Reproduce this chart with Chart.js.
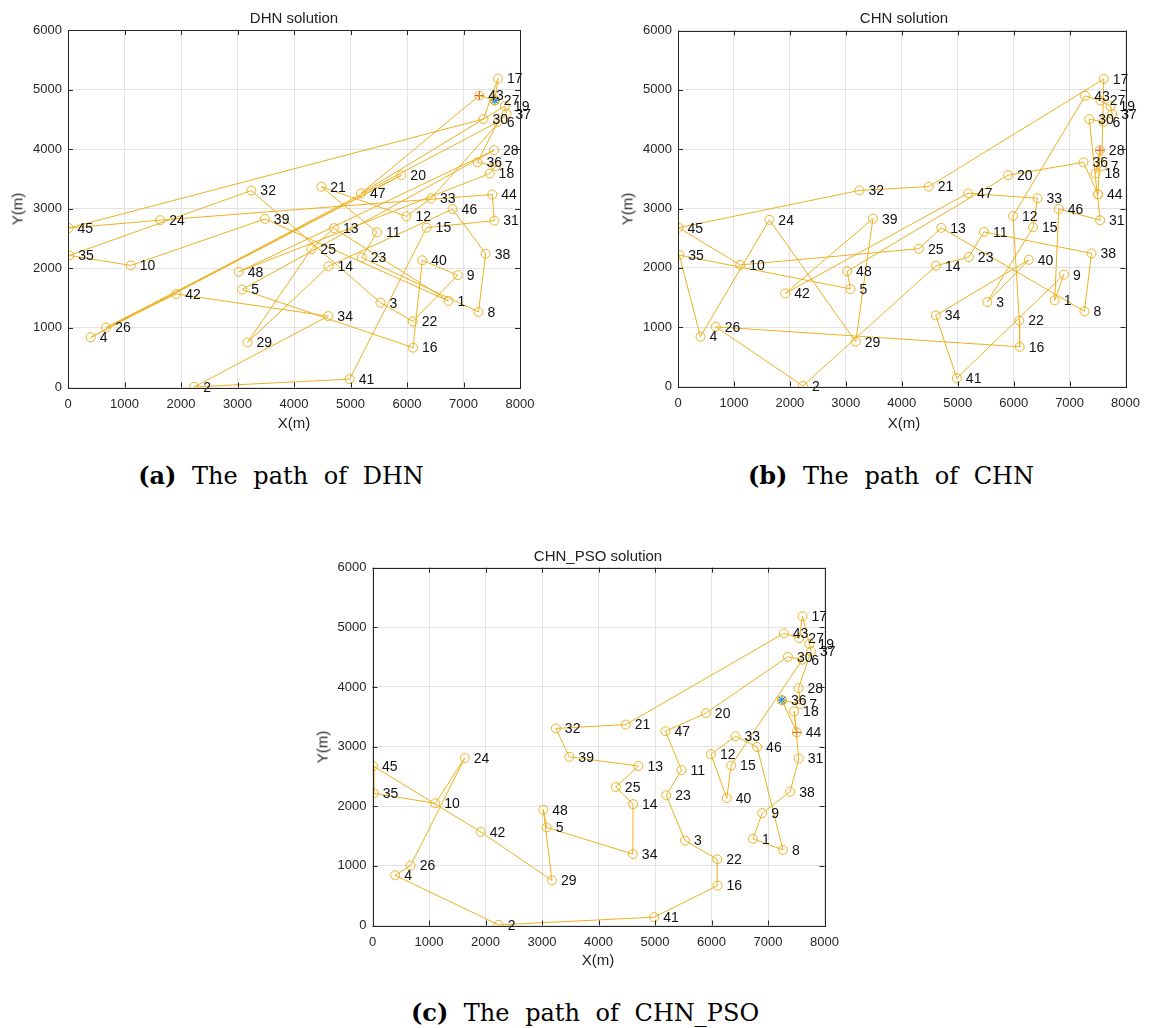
<!DOCTYPE html>
<html>
<head>
<meta charset="utf-8">
<script src="https://cdn.jsdelivr.net/npm/chart.js@4.4.1/dist/chart.umd.min.js"></script>
<style>
body{margin:0;background:#fff;width:1149px;height:1028px;position:relative;overflow:hidden;font-family:"Liberation Sans",Arial,sans-serif;color:#222}
canvas{position:absolute}
.t{position:absolute;transform:translate(-50%,-50%);white-space:nowrap}
.ttl{font-size:15px}
.ax{font-size:15px}
.rot{transform:translate(-50%,-50%) rotate(-90deg)}
.cap{font-family:"DejaVu Serif","Liberation Serif",serif;font-size:24px;color:#000;word-spacing:8px}
</style>
</head>
<body>
<canvas id="ca" width="545" height="420" style="left:0;top:0"></canvas>
<canvas id="cb" width="539" height="420" style="left:610px;top:0"></canvas>
<canvas id="cc" width="545" height="420" style="left:304px;top:537px"></canvas>

<div class="t ttl" style="left:294px;top:17px">DHN solution</div>
<div class="t ttl" style="left:904px;top:17px">CHN solution</div>
<div class="t ttl" style="left:598px;top:555px">CHN_PSO solution</div>

<div class="t ax" style="left:294px;top:422px">X(m)</div>
<div class="t ax" style="left:904px;top:422px">X(m)</div>
<div class="t ax" style="left:598px;top:959px">X(m)</div>
<div class="t ax rot" style="left:17px;top:209px">Y(m)</div>
<div class="t ax rot" style="left:627px;top:209px">Y(m)</div>
<div class="t ax rot" style="left:322px;top:747px">Y(m)</div>

<div class="t cap" style="left:281px;top:475px"><b>(a)</b> The path of DHN</div>
<div class="t cap" style="left:891px;top:475px"><b>(b)</b> The path of CHN</div>
<div class="t cap" style="left:585px;top:1012px"><b>(c)</b> The path of CHN_PSO</div>

<script>
// city coordinates (att48), index = city number - 1
const cityX = [6734, 2233, 5530, 401, 3082, 7608, 7573, 7265, 6898, 1112, 5468, 5989, 4706, 4612, 6347, 6107,
  7611, 7462, 7732, 5900, 4483, 6101, 5199, 1633, 4307, 675, 7555, 7541, 3177, 7352, 7545, 3245,
  6426, 4608, 23, 7248, 7762, 7392, 3484, 6271, 4985, 1916, 7280, 7509, 10, 6807, 5185, 3023];
const cityY = [1453, 10, 1424, 841, 1644, 4458, 3716, 1268, 1885, 2049, 2606, 2873, 2674, 2035, 2683, 669,
  5184, 3590, 4723, 3561, 3369, 1110, 2182, 2809, 2322, 1006, 4819, 3981, 756, 4506, 2801, 3305,
  3173, 1198, 2216, 3779, 4595, 2244, 2829, 2135, 140, 1569, 4899, 3239, 2676, 2993, 3258, 1942];

// visiting order of each solution (first city = start, last city = end)
const tourDHN = [27, 17, 30, 45, 24, 44, 31, 15, 41, 2, 34, 42, 26, 20, 4, 6, 36, 7, 18, 48, 28, 5, 16, 40,
  9, 22, 3, 32, 35, 10, 39, 1, 13, 25, 29, 14, 46, 38, 8, 23, 11, 21, 12, 33, 37, 19, 47, 43];
const tourCHN = [44, 36, 20, 48, 5, 35, 4, 24, 29, 39, 42, 47, 33, 15, 3, 40, 34, 41, 9, 1, 46, 31, 30, 6,
  37, 19, 27, 43, 12, 22, 16, 26, 2, 14, 23, 11, 38, 8, 13, 25, 10, 45, 32, 21, 17, 7, 18, 28];
const tourPSO = [36, 7, 28, 37, 19, 17, 27, 43, 21, 32, 39, 13, 25, 14, 34, 5, 48, 29, 42, 45, 35, 10, 24, 26,
  4, 2, 41, 16, 22, 3, 23, 11, 47, 20, 30, 6, 15, 40, 12, 33, 46, 8, 1, 9, 38, 31, 18, 44];

const ORANGE = "#EDB120";

const boxPlugin = {
  id: "box",
  afterDraw(chart) {
    const { ctx, chartArea: a, scales } = chart;
    ctx.save();
    ctx.strokeStyle = "#262626";
    ctx.lineWidth = 1;
    ctx.beginPath();
    scales.x.ticks.forEach((t) => {
      const px = Math.round(scales.x.getPixelForValue(t.value)) + 0.5;
      ctx.moveTo(px, a.bottom); ctx.lineTo(px, a.bottom - 5);
      ctx.moveTo(px, a.top); ctx.lineTo(px, a.top + 5);
    });
    scales.y.ticks.forEach((t) => {
      const py = Math.round(scales.y.getPixelForValue(t.value)) + 0.5;
      ctx.moveTo(a.left, py); ctx.lineTo(a.left + 5, py);
      ctx.moveTo(a.right, py); ctx.lineTo(a.right - 5, py);
    });
    ctx.stroke();
    ctx.strokeRect(Math.round(a.left) + 0.5, Math.round(a.top) + 0.5,
      Math.round(a.right - a.left), Math.round(a.bottom - a.top));
    ctx.restore();
  },
};

const labelPlugin = {
  id: "cityLabels",
  afterDatasetsDraw(chart) {
    const { ctx, scales } = chart;
    ctx.save();
    ctx.fillStyle = "#111";
    ctx.font = "14px 'Liberation Sans', Arial, sans-serif";
    ctx.textBaseline = "middle";
    cityX.forEach((x, i) => {
      const px = scales.x.getPixelForValue(x);
      const py = scales.y.getPixelForValue(cityY[i]);
      ctx.fillText(String(i + 1), px + 9, py + 1);
    });
    ctx.restore();
  },
};

function drawPanel(id, tour, geo) {
  const pts = tour.map((c) => ({ x: cityX[c - 1], y: cityY[c - 1] }));
  pts.push(pts[0]);
  const first = tour[0], last = tour[tour.length - 1];
  const sets = [
    {
      data: pts, showLine: true, borderColor: ORANGE, borderWidth: 1,
      pointStyle: "circle", pointRadius: 4.5, pointBorderColor: ORANGE,
      pointBackgroundColor: "rgba(0,0,0,0)", pointBorderWidth: 1,
    },
    {
      data: [{ x: cityX[last - 1], y: cityY[last - 1] }], pointStyle: "cross",
      pointRadius: 4.5, pointBorderColor: "#e03a1e", pointBorderWidth: 1,
    },
  ];
  if (geo.star) {
    sets.push({
      data: [{ x: cityX[first - 1], y: cityY[first - 1] }], pointStyle: "star",
      pointRadius: 5, pointBorderColor: "#1a8ad6", pointBorderWidth: 1.2,
    });
  }
  new Chart(document.getElementById(id), {
    type: "scatter",
    data: { datasets: sets },
    options: {
      animation: false, responsive: false, devicePixelRatio: 1,
      layout: { padding: { top: geo.top, right: geo.right, left: 0, bottom: 0 } },
      plugins: { legend: { display: false }, tooltip: { enabled: false } },
      scales: {
        x: {
          type: "linear", min: 0, max: 8000,
          ticks: { stepSize: 1000, color: "#262626", font: { size: 13 }, padding: 9, maxRotation: 0,
            callback: (v) => String(v) },
          grid: { color: "#e3e3e3", drawTicks: false },
          border: { display: false },
          afterFit(s) { s.height = geo.xh; },
        },
        y: {
          type: "linear", min: 0, max: 6000,
          ticks: { stepSize: 1000, color: "#262626", font: { size: 13 }, padding: 6,
            callback: (v) => String(v) },
          grid: { color: "#e3e3e3", drawTicks: false },
          border: { display: false },
          afterFit(s) { s.width = geo.yw; },
        },
      },
    },
    plugins: [boxPlugin, labelPlugin],
  });
}

drawPanel("ca", tourDHN, { top: 30, right: 25, xh: 32.5, yw: 68, star: true });
drawPanel("cb", tourCHN, { top: 30.5, right: 19, xh: 33.5, yw: 68, star: false });
drawPanel("cc", tourPSO, { top: 30.7, right: 24.5, xh: 31.5, yw: 68.5, star: true });
</script>
</body>
</html>
